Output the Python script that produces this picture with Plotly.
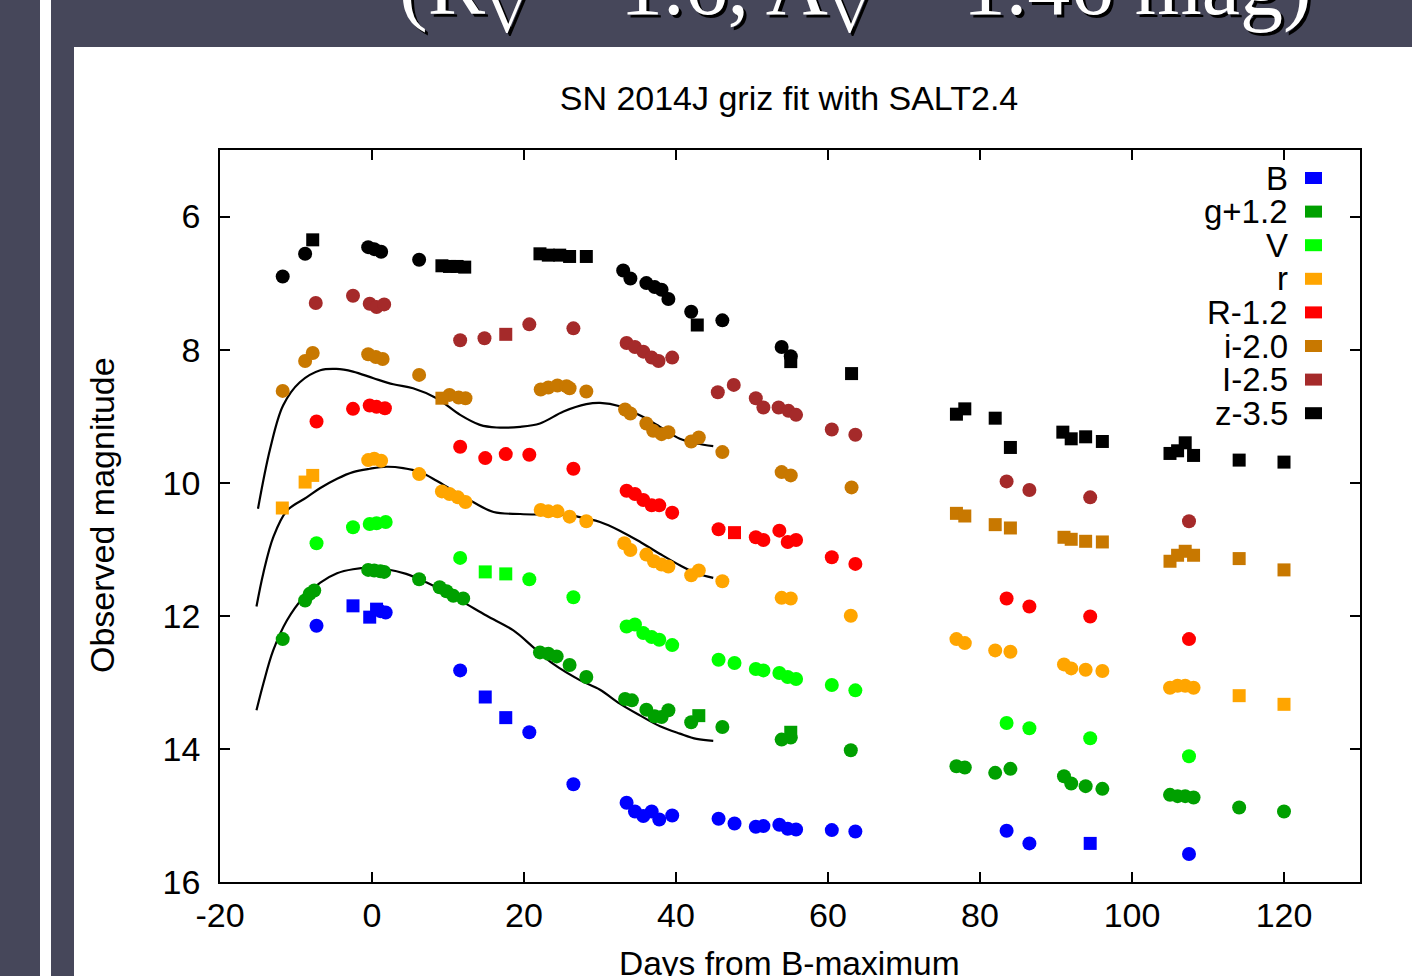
import plotly.graph_objects as go

# ---------------- data ----------------
band_names = ["B", "g+1.2", "V", "r", "R-1.2", "i-2.0", "I-2.5", "z-3.5"]
band_colors = ["#0000ff", "#00a000", "#00ff00", "#ffa500", "#ff0000", "#c87800", "#a52a2a", "#000000"]

# circle-marked points
B_days = [-7.3, 1.1, 1.8, 11.6, 20.7, 26.5, 33.5, 34.6, 35.7, 36.8, 37.8, 39.5, 45.6, 47.7, 50.5, 51.5, 53.6, 54.7, 55.8, 60.5, 63.6, 83.5, 86.5, 107.5]
B_mag = [12.15, 11.93, 11.95, 12.82, 13.75, 14.53, 14.81, 14.94, 15.01, 14.94, 15.06, 15.00, 15.05, 15.12, 15.17, 15.16, 15.14, 15.20, 15.21, 15.22, 15.24, 15.23, 15.42, 15.58]
B_sq_days = [-2.5, -0.3, 0.6, 14.9, 17.6, 94.5]
B_sq_mag = [11.85, 12.02, 11.90, 13.22, 13.53, 15.42]

g_days = [-11.75, -8.8, -8.2, -7.6, -0.5, 0.3, 1.1, 1.6, 6.2, 8.9, 9.8, 10.7, 12.0, 22.1, 23.2, 24.3, 26.0, 28.2,
          33.3, 34.2, 36.1, 37.2, 38.1, 39.0, 42.0, 46.1, 53.9, 55.1, 63.0, 76.9, 78.0, 82.0, 84.0, 91.05, 92.0, 93.9, 96.1,
          105.0, 106.0, 107.0, 108.1, 114.1, 120.0]
g_mag = [12.35, 11.77, 11.67, 11.62, 11.31, 11.32, 11.33, 11.34, 11.45, 11.57, 11.63, 11.70, 11.74, 12.55, 12.57, 12.61, 12.74, 12.92,
         13.25, 13.27, 13.41, 13.51, 13.52, 13.42, 13.60, 13.67, 13.86, 13.83, 14.02, 14.26, 14.28, 14.36, 14.30, 14.41, 14.52, 14.56, 14.60,
         14.69, 14.71, 14.71, 14.73, 14.88, 14.94]
g_sq_days = [43.0, 55.1]
g_sq_mag = [13.50, 13.75]

V_days = [-7.3, -2.5, -0.3, 0.6, 1.8, 11.6, 20.7, 26.5, 33.5, 34.6, 35.7, 36.8, 37.8, 39.5, 45.6, 47.7, 50.5, 51.5, 53.6, 54.7, 55.8, 60.5, 63.6, 83.5, 86.5, 94.5, 107.5]
V_mag = [10.91, 10.67, 10.62, 10.61, 10.59, 11.13, 11.45, 11.72, 12.16, 12.13, 12.26, 12.32, 12.36, 12.44, 12.66, 12.71, 12.80, 12.82, 12.86, 12.92, 12.95, 13.04, 13.12, 13.61, 13.69, 13.84, 14.11]
V_sq_days = [14.9, 17.6]
V_sq_mag = [11.34, 11.37]

r_days = [-0.5, 0.3, 1.2, 6.2, 9.2, 10.2, 11.3, 12.3, 22.2, 23.2, 24.4, 26.0, 28.2, 33.2, 34.0, 36.1, 37.1, 38.1, 39.0, 42.0, 43.0, 46.1,
          53.9, 55.1, 63.0, 76.9, 78.0, 82.0, 84.0, 91.05, 92.0, 93.9, 96.1, 105.0, 106.0, 107.0, 108.1]
r_mag = [9.66, 9.64, 9.67, 9.87, 10.13, 10.17, 10.22, 10.29, 10.41, 10.43, 10.43, 10.51, 10.58, 10.91, 11.01, 11.08, 11.18, 11.23, 11.26, 11.39, 11.32, 11.48,
         11.73, 11.74, 12.00, 12.35, 12.41, 12.52, 12.54, 12.73, 12.79, 12.81, 12.83, 13.08, 13.05, 13.05, 13.08]
r_sq_days = [-11.8, -8.8, -7.8, 114.1, 120.0]
r_sq_mag = [10.38, 9.99, 9.89, 13.20, 13.33]

R_days = [-7.3, -2.5, -0.3, 0.6, 1.7, 11.6, 14.9, 17.6, 20.7, 26.5, 33.5, 34.6, 35.7, 36.8, 37.8, 39.5, 45.6, 50.5, 51.5, 53.6, 54.7, 55.8, 60.5, 63.6, 83.5, 86.5, 94.5, 107.5]
R_mag = [9.08, 8.89, 8.84, 8.86, 8.88, 9.46, 9.63, 9.57, 9.58, 9.79, 10.12, 10.17, 10.26, 10.34, 10.34, 10.45, 10.70, 10.82, 10.86, 10.72, 10.89, 10.86, 11.12, 11.22, 11.74, 11.86, 12.01, 12.35]
R_sq_days = [47.7]
R_sq_mag = [10.75]

i_days = [-11.75, -8.8, -7.8, -0.5, 0.5, 1.4, 6.2, 10.2, 11.4, 12.3, 22.2, 23.2, 24.4, 25.6, 26.0, 28.2, 33.3, 34.0, 36.1, 37.0, 38.1, 39.0, 42.0, 43.0, 46.1, 53.9, 55.1, 63.1]
i_mag = [8.62, 8.17, 8.05, 8.07, 8.11, 8.14, 8.38, 8.68, 8.72, 8.73, 8.60, 8.57, 8.54, 8.55, 8.58, 8.63, 8.90, 8.96, 9.11, 9.22, 9.27, 9.24, 9.38, 9.32, 9.54, 9.84, 9.89, 10.07]
i_sq_days = [9.2, 76.9, 78.0, 82.0, 84.0, 91.05, 92.0, 93.9, 96.1, 105.0, 106.0, 107.0, 108.1, 114.1, 120.0]
i_sq_mag = [8.73, 10.46, 10.50, 10.63, 10.68, 10.82, 10.85, 10.88, 10.89, 11.18, 11.09, 11.03, 11.09, 11.14, 11.31]

I_days = [-7.4, -2.5, -0.3, 0.6, 1.6, 11.6, 14.8, 20.7, 26.5, 33.5, 34.6, 35.7, 36.8, 37.7, 39.5, 45.5, 47.6, 50.5, 51.5, 53.5, 54.8, 55.8, 60.5, 63.6, 83.5, 86.5, 94.5, 107.5]
I_mag = [7.30, 7.19, 7.31, 7.36, 7.32, 7.86, 7.83, 7.62, 7.68, 7.90, 7.96, 8.03, 8.12, 8.17, 8.12, 8.64, 8.53, 8.73, 8.87, 8.87, 8.92, 8.98, 9.20, 9.28, 9.98, 10.11, 10.22, 10.58]
I_sq_days = [17.6]
I_sq_mag = [7.77]

z_days = [-11.75, -8.8, -0.5, 0.3, 1.2, 6.2, 33.05, 34.0, 36.1, 37.2, 38.1, 39.0, 42.0, 46.1, 53.9, 55.1]
z_mag = [6.90, 6.56, 6.46, 6.49, 6.53, 6.65, 6.81, 6.93, 7.00, 7.06, 7.10, 7.24, 7.43, 7.56, 7.96, 8.10]
z_sq_days = [-7.8, 9.2, 10.2, 11.2, 12.2, 22.1, 23.2, 24.7, 26.0, 28.2, 42.8, 55.1, 63.1, 76.9, 78.0, 82.0, 84.0, 90.9, 92.0, 93.9, 96.1,
             105.0, 106.0, 107.0, 108.1, 114.1, 120.0]
z_sq_mag = [6.35, 6.74, 6.75, 6.75, 6.76, 6.56, 6.58, 6.58, 6.60, 6.60, 7.63, 8.18, 8.36, 8.97, 8.89, 9.03, 9.47, 9.24, 9.34, 9.31, 9.38,
            9.56, 9.52, 9.40, 9.59, 9.66, 9.69]

circle_days = [B_days, g_days, V_days, r_days, R_days, i_days, I_days, z_days]
circle_mags = [B_mag, g_mag, V_mag, r_mag, R_mag, i_mag, I_mag, z_mag]
square_days = [B_sq_days, g_sq_days, V_sq_days, r_sq_days, R_sq_days, i_sq_days, I_sq_days, z_sq_days]
square_mags = [B_sq_mag, g_sq_mag, V_sq_mag, r_sq_mag, R_sq_mag, i_sq_mag, I_sq_mag, z_sq_mag]

# SALT2.4 model curves
fit_i_days = [-15.0, -13.4, -11.7, -9.5, -6.8, -4.7, -2.5, 0.2, 2.8, 5.4, 8.5, 11.6, 14.2, 16.4, 19.5, 22.1, 25.2, 28.2, 30.0, 32.6, 35.3, 37.9, 40.5, 42.7, 44.9]
fit_i_mag = [10.39, 9.49, 8.84, 8.49, 8.31, 8.29, 8.33, 8.43, 8.52, 8.58, 8.73, 8.98, 9.13, 9.17, 9.16, 9.11, 8.93, 8.82, 8.80, 8.85, 8.99, 9.16, 9.34, 9.41, 9.45]
fit_r_days = [-15.2, -14.3, -13.0, -11.2, -8.6, -6.8, -4.6, -2.5, -0.3, 1.9, 4.1, 6.3, 8.5, 10.7, 13.3, 16.0, 19.5, 23.0, 26.1, 28.2, 30.0, 32.6, 35.3, 37.9, 40.5, 42.7, 44.9]
fit_r_mag = [11.86, 11.36, 10.82, 10.42, 10.22, 10.08, 9.94, 9.84, 9.79, 9.76, 9.78, 9.84, 9.97, 10.12, 10.29, 10.44, 10.47, 10.48, 10.49, 10.54, 10.59, 10.72, 10.89, 11.07, 11.24, 11.36, 11.43]
fit_g_days = [-15.2, -14.3, -13.0, -11.2, -9.0, -6.8, -4.6, -2.5, -0.3, 1.9, 4.5, 7.2, 9.8, 12.4, 15.1, 18.6, 21.2, 23.8, 27.4, 30.0, 32.6, 35.3, 37.9, 40.5, 42.7, 44.9]
fit_g_mag = [13.42, 13.02, 12.52, 12.07, 11.72, 11.50, 11.36, 11.30, 11.28, 11.30, 11.37, 11.50, 11.65, 11.82, 12.00, 12.22, 12.47, 12.72, 12.97, 13.11, 13.32, 13.50, 13.66, 13.77, 13.85, 13.88]
fit_days = [fit_i_days, fit_r_days, fit_g_days]
fit_mags = [fit_i_mag, fit_r_mag, fit_g_mag]

x_ticks = [-20, 0, 20, 40, 60, 80, 100, 120]
x_tick_labels = ["-20", "0", "20", "40", "60", "80", "100", "120"]
y_ticks = [6, 8, 10, 12, 14, 16]
y_tick_labels = ["6", "8", "10", "12", "14", "16"]

# ---------------- figure ----------------
W, H = 1412, 976
ML, MR, MT, MB = 220, 52, 150, 94
PW, PH = W - ML - MR, H - MT - MB
SLIDE = "#46475a"
FONT = "Liberation Sans, Arial, sans-serif"


def px_x(p):
    return (p - ML) / PW


def px_y(p):
    return (H - MB - p) / PH


fig = go.Figure()

for dd, mm in zip(fit_days, fit_mags):
    fig.add_trace(go.Scatter(x=dd, y=mm, mode="lines", line=dict(color="black", width=2.2, shape="spline", smoothing=1.0),
                             showlegend=False, hoverinfo="skip"))

for k in range(len(band_names)):
    fig.add_trace(go.Scatter(x=circle_days[k], y=circle_mags[k], mode="markers", name=band_names[k],
                             marker=dict(symbol="circle", size=14, color=band_colors[k], line=dict(width=0)),
                             showlegend=False))
    fig.add_trace(go.Scatter(x=square_days[k], y=square_mags[k], mode="markers", name=band_names[k],
                             marker=dict(symbol="square", size=13, color=band_colors[k], line=dict(width=0)),
                             showlegend=False))

shapes = [
    # white chart panel on the slide
    dict(type="rect", xref="paper", yref="paper", x0=px_x(74), x1=px_x(W + 5), y0=px_y(H + 5), y1=px_y(47),
         fillcolor="white", line=dict(width=0), layer="below"),
    # thin white stripe on the left of the slide
    dict(type="rect", xref="paper", yref="paper", x0=px_x(40), x1=px_x(51), y0=px_y(H + 5), y1=px_y(-5),
         fillcolor="white", line=dict(width=0), layer="below"),
]

annotations = []
# legend (gnuplot style: text right-aligned, key square on the right)
leg_y0, leg_dy = 178, 33.6
for k, (nm, col) in enumerate(zip(band_names, band_colors)):
    yc = leg_y0 + k * leg_dy
    annotations.append(dict(x=px_x(1290), y=px_y(yc), xref="paper", yref="paper", text=nm, showarrow=False,
                            xanchor="right", yanchor="middle", font=dict(family=FONT, size=33, color="black")))
    shapes.append(dict(type="rect", xref="paper", yref="paper", x0=px_x(1305), x1=px_x(1322),
                       y0=px_y(yc + 6), y1=px_y(yc - 6), fillcolor=col, line=dict(width=0)))

# slide heading (cut off at the top of the picture)
head = "(R<sub>V</sub> = 1.6, A<sub>V</sub> = 1.46 mag)"
for dx, dy, col in [(3, 3, "black"), (0, 0, "white")]:
    annotations.append(dict(x=px_x(855 + dx), y=px_y(47 + dy), xref="paper", yref="paper", text=head, showarrow=False,
                            xanchor="center", yanchor="bottom",
                            font=dict(family="Liberation Serif, Times New Roman, serif", size=86, color=col)))

# axis titles
annotations.append(dict(x=px_x(789), y=px_y(963), xref="paper", yref="paper", text="Days from B-maximum", showarrow=False,
                        xanchor="center", yanchor="middle", font=dict(family=FONT, size=33.5, color="black")))
annotations.append(dict(x=px_x(102), y=px_y(515), xref="paper", yref="paper", text="Observed magnitude", showarrow=False,
                        xanchor="center", yanchor="middle", textangle=-90, font=dict(family=FONT, size=34, color="black")))

fig.update_layout(
    width=W, height=H,
    margin=dict(l=ML, r=MR, t=MT, b=MB),
    paper_bgcolor=SLIDE, plot_bgcolor="white",
    title=dict(text="SN 2014J griz fit with SALT2.4", x=789 / W, xanchor="center",
               y=1 - 98 / H, yanchor="middle", yref="container",
               font=dict(family=FONT, size=34, color="black")),
    showlegend=False,
    shapes=shapes, annotations=annotations,
    xaxis=dict(range=[-20, 130], tickvals=x_ticks, ticktext=x_tick_labels, ticks="inside", ticklen=10, tickwidth=1.5,
               tickcolor="black", showline=True, linecolor="black", linewidth=1.5, mirror="allticks", showgrid=False,
               zeroline=False, tickfont=dict(family=FONT, size=34, color="black"), ticklabelstandoff=2),
    yaxis=dict(range=[16, 5], tickvals=y_ticks, ticktext=y_tick_labels, ticks="inside", ticklen=10, tickwidth=1.5,
               tickcolor="black", showline=True, linecolor="black", linewidth=1.5, mirror="allticks", showgrid=False,
               zeroline=False, tickfont=dict(family=FONT, size=34, color="black"), ticklabelstandoff=11),
)

fig.write_html("out.html", config={"displayModeBar": False},
               post_script="document.body.style.margin='0px';document.body.style.background='" + SLIDE + "';")
